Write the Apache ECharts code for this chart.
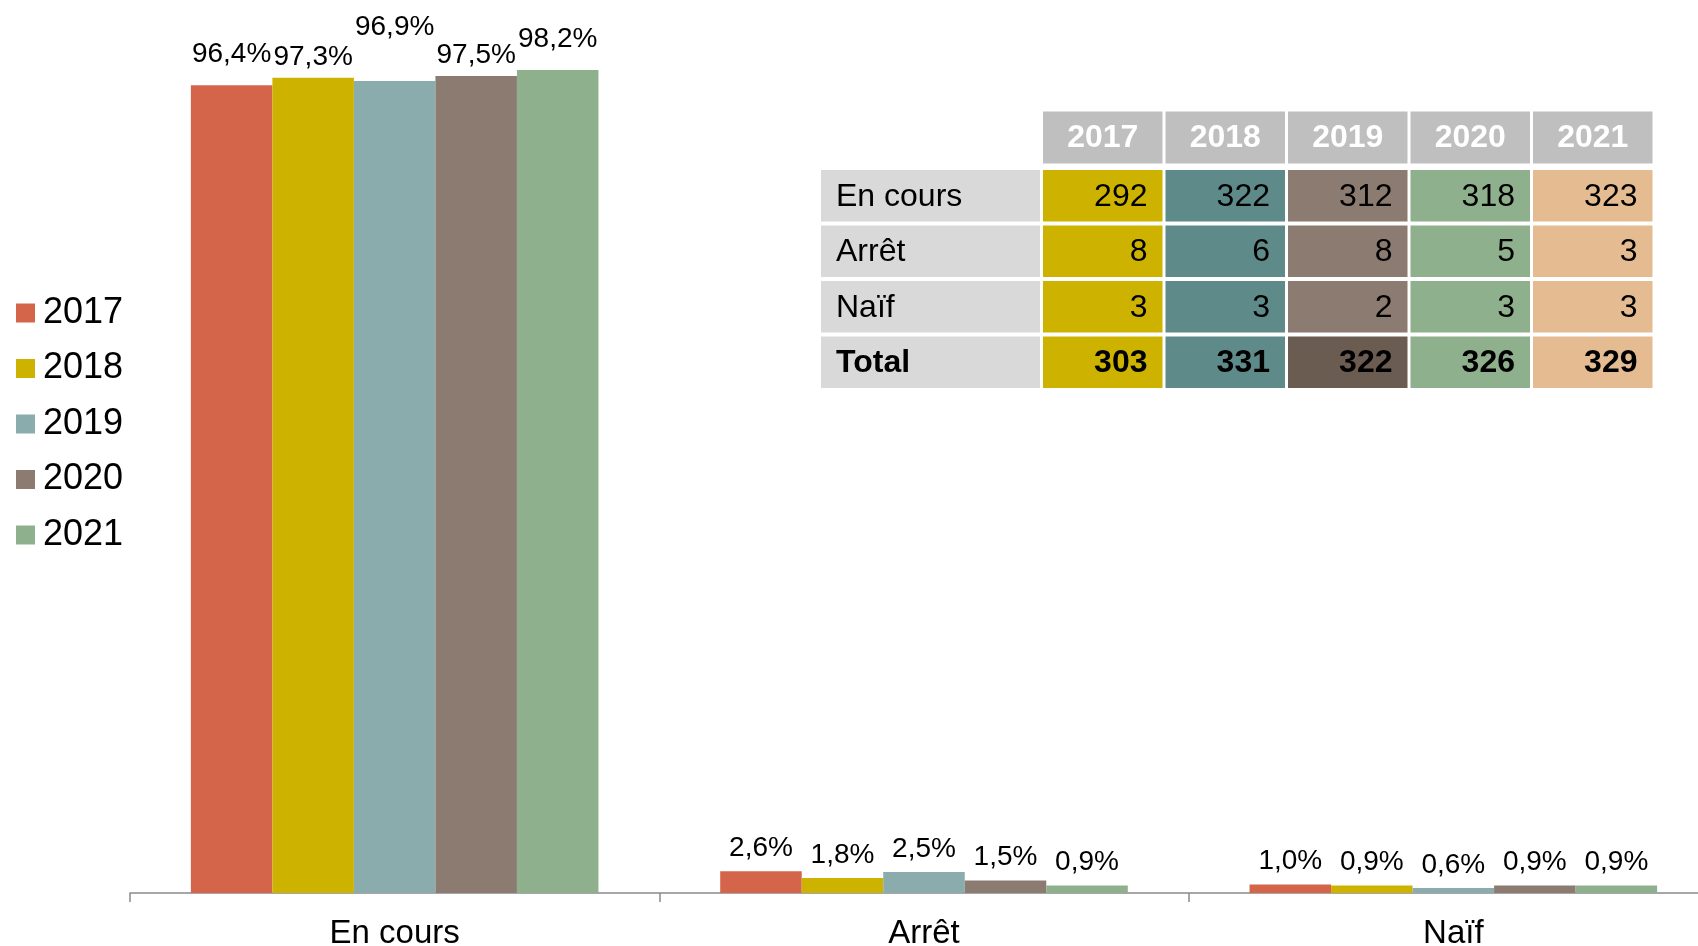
<!DOCTYPE html>
<html>
<head>
<meta charset="utf-8">
<script src="https://cdn.jsdelivr.net/npm/echarts@6/dist/echarts.min.js"></script>
<style>
  html, body { margin: 0; padding: 0; background: #fff; overflow: hidden; }
  #chart { width: 1698px; height: 946px; }
</style>
</head>
<body>
<div id="chart"></div>
<script>
// chart data
const categories = ['En cours', 'Arrêt', 'Naïf'];
const years = ['2017', '2018', '2019', '2020', '2021'];
const pct2017 = [96.4, 2.6, 1.0];
const pct2018 = [97.3, 1.8, 0.9];
const pct2019 = [96.9, 2.5, 0.6];
const pct2020 = [97.5, 1.5, 0.9];
const pct2021 = [98.2, 0.9, 0.9];

// table data (counts)
const rowLabels = ['En cours', 'Arrêt', 'Naïf', 'Total'];
const countEnCours = [292, 322, 312, 318, 323];
const countArret = [8, 6, 8, 5, 3];
const countNaif = [3, 3, 2, 3, 3];
const countTotal = [303, 331, 322, 326, 329];

const barColors = ['#d4654b', '#cdb300', '#8aacad', '#8b7b71', '#8fb08c'];
const tableColors = ['#cdb300', '#5f8a8a', '#8c7b70', '#8eb08c', '#e5bc92'];
const totalColors = ['#cdb300', '#5f8a8a', '#6b5c52', '#8eb08c', '#e5bc92'];
const FONT = '"Liberation Sans", Arial, sans-serif';

function fmt(v) {
  return v.toFixed(1).replace('.', ',') + '%';
}

// Excel-like hand placed labels on the tall group
const firstGroupLift = [8, -3, 31, -2, 8];

const allPct = [pct2017, pct2018, pct2019, pct2020, pct2021];

const series = allPct.map(function(arr, i) {
  return {
    name: years[i],
    type: 'bar',
    barGap: 0,
    barCategoryGap: '23%',
    itemStyle: { color: barColors[i] },
    label: {
      show: true,
      position: 'top',
      distance: 9,
      color: '#000',
      fontSize: 28,
      fontFamily: FONT,
      formatter: function(p) { return fmt(p.value); }
    },
    data: arr.map(function(v, j) {
      if (j === 0) return { value: v, label: { offset: [0, -firstGroupLift[i]] } };
      return v;
    })
  };
});

// table built as graphic elements
function buildTable() {
  const els = [];
  const x0 = 821, labelW = 219;
  const colX0 = 1043, colW = 119.5, gap = 3;
  const headTop = 111.5, headH = 52;
  const rowTop = 170, rowH = 51.5, rowGap = 4;
  const rows = [countEnCours, countArret, countNaif, countTotal];

  years.forEach(function(y, c) {
    const cx = colX0 + c * (colW + gap);
    els.push({ type: 'rect', shape: { x: cx, y: headTop, width: colW, height: headH }, style: { fill: '#bfbfbf' } });
    els.push({ type: 'text', style: {
      text: y, x: cx + colW / 2, y: headTop + headH / 2 + 1, align: 'center', verticalAlign: 'middle',
      fill: '#fff', fontSize: 32, fontWeight: 'bold', fontFamily: FONT } });
  });

  rows.forEach(function(vals, r) {
    const ry = rowTop + r * (rowH + rowGap);
    const bold = r === 3;
    els.push({ type: 'rect', shape: { x: x0, y: ry, width: labelW, height: rowH }, style: { fill: '#d9d9d9' } });
    els.push({ type: 'text', style: {
      text: rowLabels[r], x: x0 + 15, y: ry + rowH / 2 + 1, align: 'left', verticalAlign: 'middle',
      fill: '#000', fontSize: 32, fontWeight: bold ? 'bold' : 'normal', fontFamily: FONT } });
    vals.forEach(function(v, c) {
      const cx = colX0 + c * (colW + gap);
      els.push({ type: 'rect', shape: { x: cx, y: ry, width: colW, height: rowH },
        style: { fill: bold ? totalColors[c] : tableColors[c] } });
      els.push({ type: 'text', style: {
        text: String(v), x: cx + colW - 15, y: ry + rowH / 2 + 1, align: 'right', verticalAlign: 'middle',
        fill: '#000', fontSize: 32, fontWeight: bold ? 'bold' : 'normal', fontFamily: FONT } });
    });
  });
  return els;
}

const chart = echarts.init(document.getElementById('chart'));
chart.setOption({
  animation: false,
  textStyle: { fontFamily: FONT },
  color: barColors,
  // plot area runs past the right edge, as in the original slide
  grid: { left: 130, right: -20, top: 55, bottom: 53, containLabel: false, outerBoundsMode: 'none' },
  legend: {
    orient: 'vertical',
    left: 16,
    top: 295,
    padding: 0,
    itemWidth: 19,
    itemHeight: 19,
    itemGap: 19.5,
    icon: 'rect',
    textStyle: { fontSize: 36, color: '#000', fontFamily: FONT, padding: [0, 0, 0, 3] },
    data: years
  },
  xAxis: {
    type: 'category',
    data: categories,
    axisLine: { lineStyle: { color: '#8a8a8a', width: 1.5 } },
    axisTick: { show: true, alignWithLabel: false, interval: 0, length: 9, lineStyle: { color: '#8a8a8a', width: 1.5 } },
    axisLabel: { fontSize: 33, color: '#000', margin: 24, fontFamily: FONT }
  },
  yAxis: {
    type: 'value',
    min: 0,
    max: 100,
    show: false,
    splitLine: { show: false }
  },
  series: series,
  graphic: buildTable()
});
</script>
</body>
</html>
